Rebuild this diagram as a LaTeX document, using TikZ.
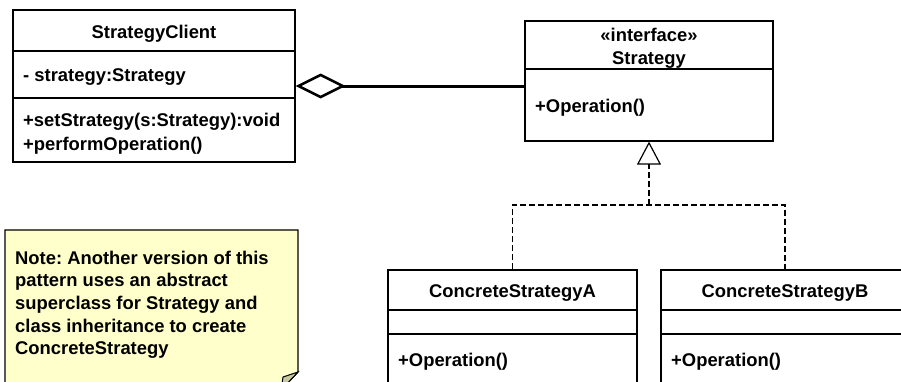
\documentclass[tikz,border=0pt]{standalone}
\usepackage{fontspec}
\setmainfont{Liberation Sans}
\usetikzlibrary{arrows.meta}
\definecolor{notefill}{HTML}{FFFFCC}
\definecolor{foldfill}{HTML}{C8C8A0}
\frenchspacing
\begin{document}
\begin{tikzpicture}[x=1pt,y=-1pt,font=\fontsize{18.4}{22.7}\selectfont\bfseries,
  classbox/.style={draw,line width=1.2pt,inner sep=0pt},
  member/.style={inner sep=0pt,anchor=base west},
  title/.style={inner sep=0pt,anchor=base},
  sep/.style={line width=1.2pt},
  realize/.style={line width=1.3pt,dash pattern=on 6pt off 3pt}]
\clip (0,0) rectangle (901,381);
% client class
\node[classbox,minimum width=282pt,minimum height=152pt] (client) at (154,86) {};
\draw[sep] (13,51)--(295,51);\draw[sep] (13,98)--(295,98);
\node[title] (clientname) at (154,38.3) {StrategyClient};
\node[member] (clientattr) at (23,81.7) {- strategy:Strategy};
\node[member] (clientset) at (23,126.7) {+setStrategy(s:Strategy):void};
\node[member] (clientperf) at (23,150) {+performOperation()};
% interface
\node[classbox,minimum width=248pt,minimum height=120pt] (strategy) at (649,81) {};
\draw[sep] (525,69)--(773,69);
\node[title] (stereo) at (649,41.7) {«interface»};
\node[title] (strategyname) at (649,64) {Strategy};
\node[member] (strategyop) at (535,112.3) {+Operation()};
% concrete classes
\node[classbox,minimum width=249pt,minimum height=130pt] (csa) at (512.5,335) {};
\draw[sep] (388,310)--(637,310);\draw[sep] (388,334)--(637,334);
\node[title] (csaname) at (512.5,297.3) {ConcreteStrategyA};
\node[member] (csaop) at (398,366.5) {+Operation()};
\node[classbox,minimum width=248pt,minimum height=130pt] (csb) at (785,335) {};
\draw[sep] (661,310)--(909,310);\draw[sep] (661,334)--(909,334);
\node[title] (csbname) at (785,297.3) {ConcreteStrategyB};
\node[member] (csbop) at (671,366.5) {+Operation()};
% note
\draw[line width=1.2pt,fill=notefill] (5,230)--(298,230)--(298,372)--(281,390)--(5,390)--cycle;
\draw[line width=1pt,fill=foldfill] (298,372)--(283,377)--(281,390)--cycle;
\node[member,align=left] (note) at (15,354.8) {Note: Another version of this\\pattern uses an abstract\\superclass for Strategy and\\class inheritance to create\\ConcreteStrategy};
% connectors
\draw[line width=3pt,{Diamond[open,length=50pt,width=25pt,line width=2.6pt]}-] (client.east) -- (client.east -| strategy.west);
\coordinate (fork) at (649,205);
\draw[realize] (csa.north) |- (fork) -| (csb.north);
\draw[realize,-{Triangle[open,length=23pt,width=24pt,line width=1.2pt]}] (fork) -- (strategy.south);
\end{tikzpicture}
\end{document}
